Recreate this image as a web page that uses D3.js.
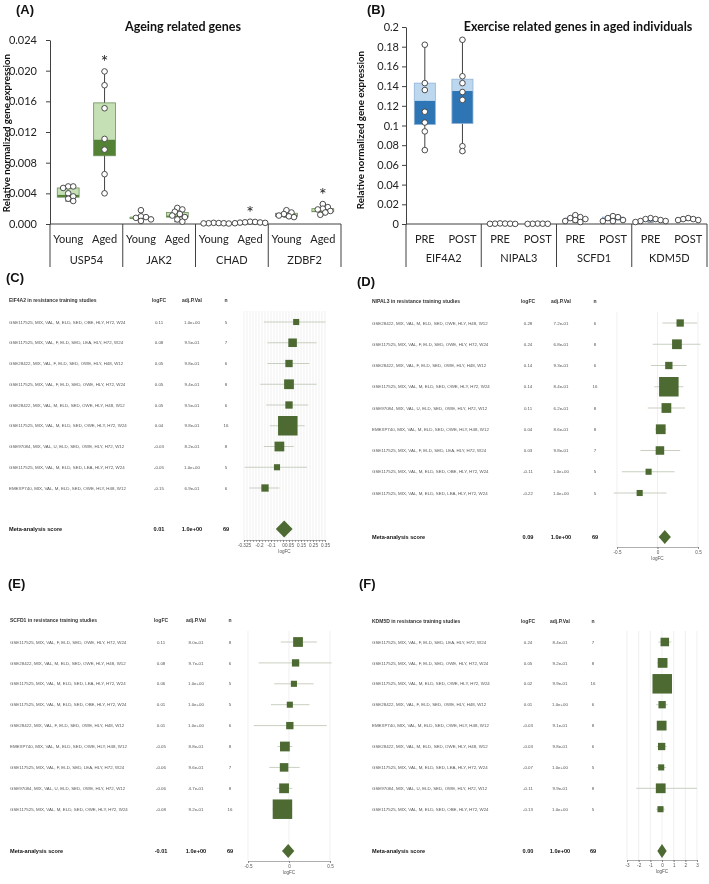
<!DOCTYPE html>
<html><head><meta charset="utf-8">
<script src="https://cdn.jsdelivr.net/npm/d3@7"></script>
<style>body{margin:0;background:#fff}svg{display:block;will-change:transform}</style>
</head><body>
<svg id="c" width="709" height="884"></svg>
<script>
// ================= DATA =================
// Panel A - ageing related genes (Young vs Aged)
const genesA = ["USP54", "JAK2", "CHAD", "ZDBF2"];
const condsA = ["Young", "Aged"];
const yTicksA = [0, 0.004, 0.008, 0.012, 0.016, 0.020, 0.024];
const minA = [0.0030, 0.0040, 0.0004, 0.0003, 0.00005, 0.0001, 0.0009, 0.0012];
const q1A  = [0.0035, 0.0089, 0.0007, 0.0009, 0.00007, 0.00015, 0.0010, 0.0016];
const medA = [0.0038, 0.0110, 0.0008, 0.0011, 0.0001, 0.0002, 0.0012, 0.0017];
const q3A  = [0.0047, 0.0158, 0.0009, 0.0015, 0.00012, 0.00025, 0.0014, 0.0020];
const maxA = [0.0049, 0.0199, 0.0018, 0.0021, 0.00015, 0.0003, 0.0018, 0.0026];
const ptsA = [
  [0.0049, 0.0049, 0.0047, 0.0040, 0.0036, 0.0033, 0.0030],
  [0.0199, 0.0181, 0.0151, 0.0111, 0.0097, 0.0065, 0.0040],
  [0.0018, 0.0010, 0.0009, 0.0008, 0.0006, 0.0004],
  [0.0021, 0.0019, 0.0016, 0.0013, 0.0011, 0.0009, 0.0006, 0.0003],
  [0.00015, 0.00012, 0.0001, 0.0001, 0.00008, 0.00006],
  [0.0003, 0.00027, 0.00022, 0.0002, 0.00018, 0.00015, 0.0001],
  [0.0018, 0.0015, 0.0013, 0.0011, 0.0010, 0.0009],
  [0.0026, 0.0022, 0.0020, 0.0019, 0.0017, 0.0015, 0.0012]
];
const sigA = [false, true, false, false, false, true, false, true];

// Panel B - exercise related genes in aged individuals (PRE vs POST)
const genesB = ["EIF4A2", "NIPAL3", "SCFD1", "KDM5D"];
const condsB = ["PRE", "POST"];
const yTicksB = [0, 0.02, 0.04, 0.06, 0.08, 0.1, 0.12, 0.14, 0.16, 0.18, 0.2];
const minB = [0.075, 0.073, 0.0001, 0.0001, 0.002, 0.003, 0.002, 0.004];
const q1B  = [0.101, 0.102, 0.0002, 0.0001, 0.004, 0.004, 0.003, 0.004];
const medB = [0.125, 0.135, 0.0003, 0.0002, 0.005, 0.005, 0.004, 0.005];
const q3B  = [0.143, 0.147, 0.0004, 0.0003, 0.006, 0.007, 0.005, 0.005];
const maxB = [0.182, 0.187, 0.0006, 0.0004, 0.009, 0.008, 0.006, 0.006];
const ptsB = [
  [0.182, 0.143, 0.136, 0.114, 0.103, 0.094, 0.075],
  [0.187, 0.150, 0.143, 0.134, 0.126, 0.079, 0.074],
  [0.0006, 0.0004, 0.0003, 0.0003, 0.0002, 0.0001],
  [0.0004, 0.0003, 0.0002, 0.0002, 0.0001],
  [0.009, 0.007, 0.006, 0.005, 0.004, 0.003, 0.002],
  [0.008, 0.007, 0.006, 0.004, 0.003, 0.003],
  [0.006, 0.005, 0.005, 0.004, 0.003, 0.003, 0.002],
  [0.006, 0.005, 0.005, 0.004, 0.004]
];

// Panel C - EIF4A2 forest
const studiesC = [
  "GSE117525, MIX, VAL, M, ELD, SED, OBE, HLY, H72, W24",
  "GSE117525, MIX, VAL, F, ELD, SED, LEA, HLY, H72, W24",
  "GSE28422, MIX, VAL, F, ELD, SED, OWE, HLY, H48, W12",
  "GSE117525, MIX, VAL, F, ELD, SED, OWE, HLY, H72, W24",
  "GSE28422, MIX, VAL, M, ELD, SED, OWE, HLY, H48, W12",
  "GSE117525, MIX, VAL, M, ELD, SED, OWE, HLY, H72, W24",
  "GSE97084, MIX, VAL, U, ELD, SED, OWE, HLY, H72, W12",
  "GSE117525, MIX, VAL, M, ELD, SED, LEA, HLY, H72, W24",
  "EMEXP740, MIX, VAL, M, ELD, SED, OWE, HLY, H48, W12"
];
const logfcC = [0.11, 0.08, 0.05, 0.05, 0.05, 0.04, -0.03, -0.05, -0.15];
const padjC = ["1.0e+00", "9.5e-01", "9.8e-01", "9.4e-01", "9.5e-01", "9.8e-01", "8.2e-01", "1.0e+00", "6.9e-01"];
const nC = [5, 7, 6, 8, 6, 16, 8, 5, 6];
const loC = [-0.16, -0.13, -0.13, -0.19, -0.14, -0.11, -0.16, -0.32, -0.28];
const hiC = [0.355, 0.28, 0.22, 0.28, 0.21, 0.18, 0.09, 0.20, -0.03];
const metaC = {logfc: 0.01, lo: -0.06, hi: 0.08, padj: "1.0e+00", n: 69};
const ticksC = [-0.325, -0.2, -0.1, 0, 0.05, 0.15, 0.25, 0.35];

// Panel D - NIPAL3 forest
const studiesD = [
  "GSE28422, MIX, VAL, M, ELD, SED, OWE, HLY, H48, W12",
  "GSE117525, MIX, VAL, F, ELD, SED, OWE, HLY, H72, W24",
  "GSE28422, MIX, VAL, F, ELD, SED, OWE, HLY, H48, W12",
  "GSE117525, MIX, VAL, M, ELD, SED, OWE, HLY, H72, W24",
  "GSE97084, MIX, VAL, U, ELD, SED, OWE, HLY, H72, W12",
  "EMEXP740, MIX, VAL, M, ELD, SED, OWE, HLY, H48, W12",
  "GSE117525, MIX, VAL, F, ELD, SED, LEA, HLY, H72, W24",
  "GSE117525, MIX, VAL, M, ELD, SED, OBE, HLY, H72, W24",
  "GSE117525, MIX, VAL, M, ELD, SED, LEA, HLY, H72, W24"
];
const logfcD = [0.28, 0.24, 0.14, 0.14, 0.11, 0.04, 0.03, -0.11, -0.22];
const padjD = ["7.2e-01", "6.8e-01", "9.3e-01", "8.4e-01", "6.2e-01", "8.6e-01", "9.8e-01", "1.0e+00", "1.0e+00"];
const nD = [6, 8, 6, 16, 8, 8, 7, 5, 5];
const loD = [0.06, -0.06, -0.08, -0.04, -0.12, -0.03, -0.21, -0.44, -0.54];
const hiD = [0.49, 0.53, 0.36, 0.32, 0.34, 0.11, 0.28, 0.21, 0.11];
const metaD = {logfc: 0.09, lo: 0.015, hi: 0.165, padj: "1.0e+00", n: 69};
const ticksD = [-0.5, 0, 0.5];

// Panel E - SCFD1 forest
const studiesE = [
  "GSE117525, MIX, VAL, F, ELD, SED, OWE, HLY, H72, W24",
  "GSE28422, MIX, VAL, M, ELD, SED, OWE, HLY, H48, W12",
  "GSE117525, MIX, VAL, M, ELD, SED, LEA, HLY, H72, W24",
  "GSE117525, MIX, VAL, M, ELD, SED, OBE, HLY, H72, W24",
  "GSE28422, MIX, VAL, F, ELD, SED, OWE, HLY, H48, W12",
  "EMEXP740, MIX, VAL, M, ELD, SED, OWE, HLY, H48, W12",
  "GSE117525, MIX, VAL, F, ELD, SED, LEA, HLY, H72, W24",
  "GSE97084, MIX, VAL, U, ELD, SED, OWE, HLY, H72, W12",
  "GSE117525, MIX, VAL, M, ELD, SED, OWE, HLY, H72, W24"
];
const logfcE = [0.11, 0.08, 0.06, 0.01, 0.01, -0.05, -0.06, -0.06, -0.08];
const padjE = ["8.0e-01", "9.7e-01", "1.0e+00", "1.0e+00", "1.0e+00", "8.8e-01", "9.6e-01", "4.7e-01", "9.2e-01"];
const nE = [8, 6, 5, 5, 6, 8, 7, 8, 16];
const loE = [-0.10, -0.37, -0.18, -0.22, -0.43, -0.14, -0.24, -0.15, -0.20];
const hiE = [0.34, 0.52, 0.30, 0.25, 0.46, 0.04, 0.13, 0.04, 0.04];
const metaE = {logfc: -0.01, lo: -0.085, hi: 0.065, padj: "1.0e+00", n: 69};
const ticksE = [-0.5, 0, 0.5];

// Panel F - KDM5D forest
const studiesF = [
  "GSE117525, MIX, VAL, F, ELD, SED, LEA, HLY, H72, W24",
  "GSE117525, MIX, VAL, F, ELD, SED, OWE, HLY, H72, W24",
  "GSE117525, MIX, VAL, M, ELD, SED, OWE, HLY, H72, W24",
  "GSE28422, MIX, VAL, F, ELD, SED, OWE, HLY, H48, W12",
  "EMEXP740, MIX, VAL, M, ELD, SED, OWE, HLY, H48, W12",
  "GSE28422, MIX, VAL, M, ELD, SED, OWE, HLY, H48, W12",
  "GSE117525, MIX, VAL, M, ELD, SED, LEA, HLY, H72, W24",
  "GSE97084, MIX, VAL, U, ELD, SED, OWE, HLY, H72, W12",
  "GSE117525, MIX, VAL, M, ELD, SED, OBE, HLY, H72, W24"
];
const logfcF = [0.24, 0.05, 0.02, 0.01, -0.03, -0.03, -0.07, -0.11, -0.13];
const padjF = ["8.4e-01", "9.2e-01", "9.9e-01", "1.0e+00", "9.1e-01", "9.8e-01", "1.0e+00", "9.9e-01", "1.0e+00"];
const nF = [7, 8, 16, 6, 8, 6, 5, 8, 5];
const loF = [-0.30, -0.40, -0.25, -0.50, -0.35, -0.45, -0.45, -2.20, -0.50];
const hiF = [0.80, 0.50, 0.30, 0.50, 0.30, 0.40, 0.35, 3.00, 0.25];
const metaF = {logfc: 0.00, lo: -0.40, hi: 0.40, padj: "1.0e+00", n: 69};
const ticksF = [-3, -2, -1, 0, 1, 2, 3];

// ================= DRAWING =================
const svg = d3.select("#c");
const XL = "Lato, 'Open Sans', sans-serif";
const AR = "'Liberation Sans', Arial, sans-serif";
const AXC = "#404040";

// deterministic dodge of overlapping points (allows partial overlap like the original)
function swarm(ys, r) {
  const placed = [];
  return ys.map(y => {
    const cands = [0];
    for (let k = 1; k < 12; k++) { cands.push(k * r * 0.9, -k * r * 0.9); }
    for (const dx of cands) {
      if (placed.every(p => Math.hypot(p[0] - dx, p[1] - y) >= 1.45 * r)) { placed.push([dx, y]); return dx; }
    }
    placed.push([0, y]); return 0;
  });
}

function boxPanel(o) {
  const g = svg.append("g");
  const y = d3.scaleLinear().domain([0, o.ticks[o.ticks.length - 1]]).range([o.yBot, o.yTop]);
  const nSub = o.genes.length * o.conds.length;
  const xb = d3.scaleBand().domain(d3.range(nSub)).range([o.x0, o.x1]);
  const gw = (o.x1 - o.x0) / o.genes.length;

  const ax = g.append("g").attr("transform", `translate(${o.x0},0)`)
    .call(d3.axisLeft(y).tickValues(o.ticks).tickFormat(o.fmt).tickSize(4).tickSizeOuter(0).tickPadding(o.pad));
  ax.select(".domain").attr("stroke", AXC);
  ax.selectAll(".tick line").attr("stroke", AXC);
  ax.selectAll("text").attr("font-family", XL).attr("font-size", o.tickFs).attr("fill", "#222");

  // category axis
  g.append("line").attr("x1", o.x0).attr("x2", o.x0).attr("y1", o.yBot).attr("y2", o.sepBot).attr("stroke", AXC);
  g.append("line").attr("x1", o.x0).attr("x2", o.x1).attr("y1", o.yBot).attr("y2", o.yBot).attr("stroke", AXC);
  o.genes.forEach((gn, k) => {
    const xe = o.x0 + gw * (k + 1);
    g.append("line").attr("x1", xe).attr("x2", xe).attr("y1", o.yBot).attr("y2", o.sepBot).attr("stroke", AXC);
    g.append("text").attr("x", o.x0 + gw * (k + 0.5)).attr("y", o.geneY).attr("text-anchor", "middle")
      .attr("font-family", XL).attr("font-size", o.catFs).attr("fill", "#222").text(gn);
  });

  for (let i = 0; i < nSub; i++) {
    const cx = xb(i) + xb.bandwidth() / 2;
    const bw = xb.bandwidth() * o.bwf;
    g.append("text").attr("x", cx).attr("y", o.condY).attr("text-anchor", "middle")
      .attr("font-family", XL).attr("font-size", o.catFs).attr("fill", "#222").text(o.conds[i % 2]);
    // whiskers
    g.append("line").attr("x1", cx).attr("x2", cx).attr("y1", y(o.max[i])).attr("y2", y(o.min[i])).attr("stroke", AXC).attr("stroke-width", 1);
    [o.max[i], o.min[i]].forEach(v => g.append("line").attr("x1", cx - 3).attr("x2", cx + 3).attr("y1", y(v)).attr("y2", y(v)).attr("stroke", AXC));
    // box
    g.append("rect").attr("x", cx - bw / 2).attr("width", bw).attr("y", y(o.q3[i])).attr("height", Math.max(0.6, y(o.med[i]) - y(o.q3[i]))).attr("fill", o.light);
    g.append("rect").attr("x", cx - bw / 2).attr("width", bw).attr("y", y(o.med[i])).attr("height", Math.max(0.8, y(o.q1[i]) - y(o.med[i]))).attr("fill", o.dark);
    g.append("rect").attr("x", cx - bw / 2).attr("width", bw).attr("y", y(o.q3[i])).attr("height", Math.max(1, y(o.q1[i]) - y(o.q3[i])))
      .attr("fill", "none").attr("stroke", o.border).attr("stroke-width", 0.8);
    // points
    const ys = o.pts[i].map(v => y(v));
    const dx = swarm(ys, o.r);
    ys.forEach((py, j) => g.append("circle").attr("cx", cx + dx[j]).attr("cy", py).attr("r", o.r)
      .attr("fill", "#fff").attr("stroke", "#3a3a3a").attr("stroke-width", 0.9));
    if (o.sig && o.sig[i]) {
      g.append("text").attr("x", cx).attr("y", y(o.max[i]) - 3).attr("text-anchor", "middle")
        .attr("font-family", XL).attr("font-size", 18).attr("fill", "#222").text("*");
    }
  }
  // title & y label
  g.append("text").attr("x", o.titleX).attr("y", o.titleY).attr("text-anchor", "middle").attr("font-family", XL)
    .attr("font-weight", "bold").attr("font-size", o.titleFs).attr("fill", "#111").text(o.title);
  g.append("text").attr("transform", `translate(${o.ylabX},${o.ylabY}) rotate(-90)`).attr("text-anchor", "middle")
    .attr("font-family", XL).attr("font-weight", "bold").attr("font-size", o.ylabFs).attr("fill", "#111")
    .text("Relative normalized gene expression");
}

boxPanel({genes: genesA, conds: condsA, ticks: yTicksA, fmt: d => d.toFixed(3),
  min: minA, q1: q1A, med: medA, q3: q3A, max: maxA, pts: ptsA, sig: sigA,
  x0: 50, x1: 341, yTop: 40, yBot: 224, sepBot: 267, pad: 9, tickFs: 11, catFs: 11,
  condY: 243, geneY: 264, bwf: 0.6, r: 2.8, light: "#c5e0b4", dark: "#548235", border: "#6f8f5a",
  title: "Ageing related genes", titleX: 183, titleY: 31, titleFs: 12.5, ylabX: 10, ylabY: 133, ylabFs: 9.8});

boxPanel({genes: genesB, conds: condsB, ticks: yTicksB, fmt: d => String(d),
  min: minB, q1: q1B, med: medB, q3: q3B, max: maxB, pts: ptsB, sig: null,
  x0: 406, x1: 707, yTop: 27, yBot: 224, sepBot: 267, pad: 3, tickFs: 11, catFs: 11,
  condY: 243, geneY: 262, bwf: 0.56, r: 2.8, light: "#bdd7ee", dark: "#2e75b6", border: "#8fb3d6",
  title: "Exercise related genes in aged individuals", titleX: 578, titleY: 31, titleFs: 12.5, ylabX: 364, ylabY: 130, ylabFs: 9.8});

// panel letters
[["(A)", 16, 14], ["(B)", 367, 14], ["(C)", 6, 282], ["(D)", 357, 286], ["(E)", 8, 588], ["(F)", 359, 588]].forEach(l =>
  svg.append("text").attr("x", l[1]).attr("y", l[2]).attr("font-family", AR).attr("font-weight", "bold")
    .attr("font-size", 13).attr("fill", "#111").text(l[0]));

const GREEN = "#4d6a32";
const sizeScale = d3.scaleLinear().domain([0, 16]).range([0, 19.5]);

function forest(o) {
  const g = svg.append("g");
  const x = d3.scaleLinear().domain(o.domain).range(o.range);
  const ry = i => o.rowY0 + i * o.step;
  // grid
  o.grid.forEach(v => g.append("line").attr("x1", x(v)).attr("x2", x(v)).attr("y1", o.rowY0 - 11).attr("y2", o.axisY)
    .attr("stroke", "#e6e6e6").attr("stroke-width", 0.6));
  // header
  const hdr = (t, xx, anc) => g.append("text").attr("x", xx).attr("y", o.headerY).attr("text-anchor", anc)
    .attr("font-family", AR).attr("font-weight", "bold").attr("font-size", 5).attr("fill", "#333").text(t);
  hdr(o.gene + " in resistance training studies", o.tx, "start");
  hdr("logFC", o.cLog, "middle"); hdr("adj.P.Val", o.cP, "middle"); hdr("n", o.cN, "middle");
  const cell = (t, xx, yy, anc, bold) => g.append("text").attr("x", xx).attr("y", yy + 1.6).attr("text-anchor", anc)
    .attr("font-family", AR).attr("font-weight", bold ? "bold" : "normal").attr("font-size", bold ? 5.6 : 4.4)
    .attr("fill", bold ? "#111" : "#555").text(t);
  o.studies.forEach((s, i) => {
    const yy = ry(i);
    cell(s, o.tx, yy, "start", false);
    cell(o.logfc[i].toFixed(2), o.cLog, yy, "middle", false);
    cell(o.padj[i], o.cP, yy, "middle", false);
    cell(String(o.n[i]), o.cN, yy, "middle", false);
    g.append("line").attr("x1", x(o.lo[i])).attr("x2", x(o.hi[i])).attr("y1", yy).attr("y2", yy)
      .attr("stroke", "#c9cfc0").attr("stroke-width", 1);
    const s2 = sizeScale(o.n[i]);
    g.append("rect").attr("x", x(o.logfc[i]) - s2 / 2).attr("y", yy - s2 / 2).attr("width", s2).attr("height", s2)
      .attr("fill", GREEN);
  });
  const my = o.metaY;
  cell("Meta-analysis score", o.tx, my, "start", true);
  cell(o.meta.logfc.toFixed(2), o.cLog, my, "middle", true);
  cell(o.meta.padj, o.cP, my, "middle", true);
  cell(String(o.meta.n), o.cN, my, "middle", true);
  const h = o.dh;
  g.append("path").attr("d", `M${x(o.meta.lo)},${my}L${x(o.meta.logfc)},${my - h / 2}L${x(o.meta.hi)},${my}L${x(o.meta.logfc)},${my + h / 2}Z`)
    .attr("fill", GREEN);
  // axis
  const ax = g.append("g").attr("transform", `translate(0,${o.axisY})`)
    .call(d3.axisBottom(x).tickValues(o.minor).tickFormat("").tickSize(2).tickSizeOuter(0));
  ax.selectAll("path,line").attr("stroke", "#777").attr("stroke-width", 0.6);
  const ax2 = g.append("g").attr("transform", `translate(0,${o.axisY})`)
    .call(d3.axisBottom(x).tickValues(o.ticks).tickFormat(d => String(d)).tickSize(2).tickSizeOuter(0).tickPadding(1.5));
  ax2.select(".domain").remove();
  ax2.selectAll("line").attr("stroke", "#777").attr("stroke-width", 0.6);
  ax2.selectAll("text").attr("font-family", AR).attr("font-size", 4.6).attr("fill", "#555");
  g.append("text").attr("x", (o.range[0] + o.range[1]) / 2).attr("y", o.axisY + 13).attr("text-anchor", "middle")
    .attr("font-family", AR).attr("font-size", 4.6).attr("fill", "#555").text("logFC");
}

forest({gene: "EIF4A2", studies: studiesC, logfc: logfcC, padj: padjC, n: nC, lo: loC, hi: hiC, meta: metaC,
  ticks: ticksC, minor: d3.range(-13, 15).map(k => k * 0.025), grid: d3.range(-13, 15).map(k => k * 0.025),
  domain: [-0.325, 0.35], range: [244, 325], tx: 9, cLog: 159, cP: 192, cN: 226,
  headerY: 302, rowY0: 322, step: 20.75, metaY: 529, axisY: 540, dh: 17});

forest({gene: "NIPAL3", studies: studiesD, logfc: logfcD, padj: padjD, n: nD, lo: loD, hi: hiD, meta: metaD,
  ticks: ticksD, minor: ticksD, grid: ticksD,
  domain: [-0.5, 0.5], range: [617, 698], tx: 372, cLog: 528, cP: 561, cN: 595,
  headerY: 303, rowY0: 323, step: 21.25, metaY: 537, axisY: 547, dh: 14});

forest({gene: "SCFD1", studies: studiesE, logfc: logfcE, padj: padjE, n: nE, lo: loE, hi: hiE, meta: metaE,
  ticks: ticksE, minor: ticksE, grid: ticksE,
  domain: [-0.5, 0.5], range: [248, 330], tx: 10, cLog: 161, cP: 196, cN: 230,
  headerY: 622, rowY0: 642, step: 20.9, metaY: 851, axisY: 861, dh: 14});

forest({gene: "KDM5D", studies: studiesF, logfc: logfcF, padj: padjF, n: nF, lo: loF, hi: hiF, meta: metaF,
  ticks: ticksF, minor: ticksF, grid: ticksF,
  domain: [-3, 3], range: [627, 697], tx: 372, cLog: 528, cP: 560, cN: 593,
  headerY: 623, rowY0: 642, step: 20.9, metaY: 851, axisY: 860, dh: 14});
</script>
</body></html>
